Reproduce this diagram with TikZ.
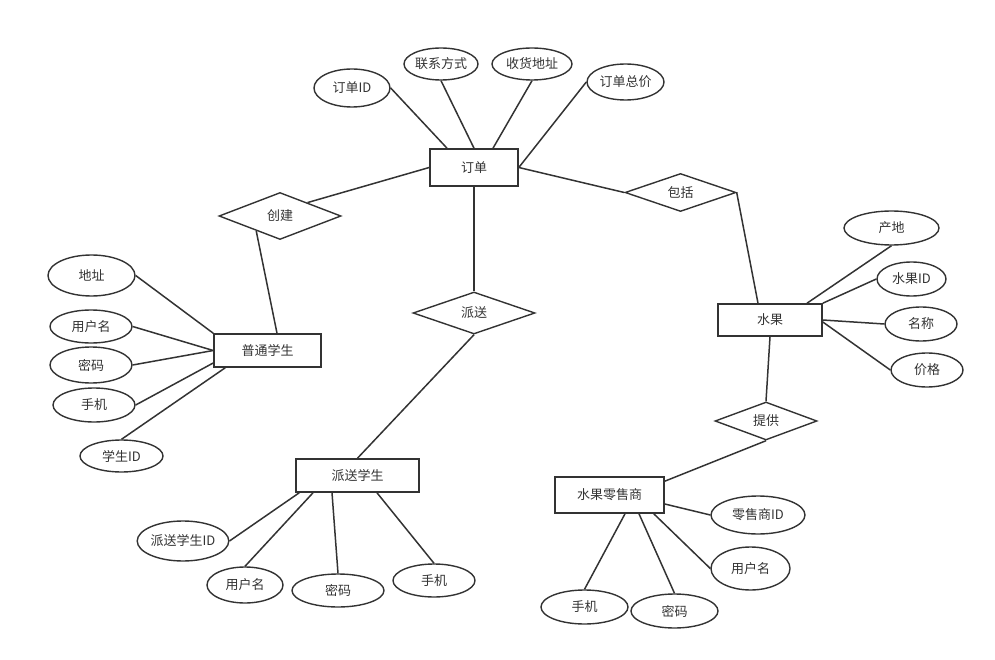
\documentclass[tikz,border=0pt]{standalone}
\usepackage{fontspec}
\setmainfont{Noto Sans CJK SC}
\usetikzlibrary{shapes.geometric}
\definecolor{ink}{HTML}{333333}
\begin{document}
\begin{tikzpicture}[x=1pt,y=-1pt,line width=1.5pt,draw=ink,text=ink,
    font=\fontsize{13}{15}\selectfont,
    ent/.style={draw,rectangle,inner sep=0pt,line width=1.6pt},
    attr/.style={draw,ellipse,inner sep=0pt,line width=1.4pt},
    rel/.style={draw,diamond,inner sep=0pt,line width=1.4pt}]
    \useasboundingbox (0,0) rectangle (995,660);
    % order
    \node[ent,minimum width=88,minimum height=37] (dd) at (474,167.5) {订单};
    \node[attr,minimum width=76,minimum height=38] (dd1) at (352,88) {订单ID};
    \node[attr,minimum width=74,minimum height=32] (dd2) at (441,64) {联系方式};
    \node[attr,minimum width=80,minimum height=32] (dd3) at (532,64) {收货地址};
    \node[attr,minimum width=77,minimum height=36] (dd4) at (625.5,82) {订单总价};
    \draw (dd1.east) edge ([xshift=-27pt]dd.north) (dd2.south) edge (dd.north)
          (dd3.south) edge ([xshift=19pt]dd.north) (dd4.west) edge (dd.east);
    % student
    \node[rel,minimum width=122,minimum height=47] (cj) at (280,216) {创建};
    \node[ent,minimum width=107,minimum height=33] (ps) at (267.5,350.5) {普通学生};
    \node[attr,minimum width=87,minimum height=41] (ps1) at (91.5,275.5) {地址};
    \node[attr,minimum width=82,minimum height=33] (ps2) at (91,326.5) {用户名};
    \node[attr,minimum width=82,minimum height=36] (ps3) at (91,365) {密码};
    \node[attr,minimum width=82,minimum height=34] (ps4) at (94,405) {手机};
    \node[attr,minimum width=83,minimum height=32] (ps5) at (121.5,456) {学生ID};
    \draw (dd.west) edge (cj.26) (cj.212) edge ([xshift=9.5pt]ps.north);
    \draw (ps1.east) edge (ps.north west) (ps2.east) edge (ps.west) (ps3.east) edge (ps.west)
          (ps4.east) edge ([yshift=-12.5pt]ps.west) (ps5.north) edge ([xshift=12pt]ps.south west);
    % delivery student
    \node[rel,minimum width=122,minimum height=42] (ps0) at (474,313) {派送};
    \node[ent,minimum width=123,minimum height=33] (xs) at (357.5,475.5) {派送学生};
    \node[attr,minimum width=88,minimum height=40] (xs1) at (183,541) {派送学生ID};
    \node[attr,minimum width=76,minimum height=36] (xs2) at (245,585) {用户名};
    \node[attr,minimum width=92,minimum height=33] (xs3) at (338,590.5) {密码};
    \node[attr,minimum width=82,minimum height=33] (xs4) at (434,580.5) {手机};
    \draw (dd.south) edge (ps0.north) (ps0.south) edge (xs.north);
    \draw (xs1.east) edge ([xshift=4pt]xs.south west) (xs2.north) edge ([xshift=-44.5pt]xs.south)
          (xs3.north) edge ([xshift=-25.5pt]xs.south) (xs4.north) edge ([xshift=19.5pt]xs.south);
    % fruit
    \node[rel,minimum width=111,minimum height=37] (bk) at (680.5,192.5) {包括};
    \node[ent,minimum width=104,minimum height=32] (sg) at (770,320) {水果};
    \node[attr,minimum width=95,minimum height=34] (sg1) at (891.5,228) {产地};
    \node[attr,minimum width=69,minimum height=34] (sg2) at (911.5,279) {水果ID};
    \node[attr,minimum width=72,minimum height=34] (sg3) at (921,324) {名称};
    \node[attr,minimum width=72,minimum height=34] (sg4) at (927,370) {价格};
    \draw (dd.east) edge (bk.west) (bk.east) edge ([xshift=-12pt]sg.north);
    \draw (sg1.south) edge ([xshift=37pt]sg.north) (sg2.west) edge (sg.north east)
          (sg3.west) edge (sg.east) (sg4.west) edge ([yshift=-2pt]sg.east);
    % retailer
    \node[rel,minimum width=102,minimum height=38] (tg) at (766,421) {提供};
    \node[ent,minimum width=109,minimum height=36] (ls) at (609.5,495) {水果零售商};
    \node[attr,minimum width=94,minimum height=38] (ls1) at (758,515) {零售商ID};
    \node[attr,minimum width=79,minimum height=43] (ls2) at (750.5,568.5) {用户名};
    \node[attr,minimum width=87,minimum height=34] (ls3) at (584.5,607) {手机};
    \node[attr,minimum width=87,minimum height=34] (ls4) at (674.5,611) {密码};
    \draw (sg.south) edge (tg.north) (tg.south) edge ([yshift=-5pt]ls.north east);
    \draw (ls1.west) edge ([yshift=-9pt]ls.east) (ls2.west) edge ([xshift=-11pt]ls.south east)
          (ls3.north) edge ([xshift=15.5pt]ls.south) (ls4.north) edge ([xshift=29.5pt]ls.south);
\end{tikzpicture}
\end{document}
